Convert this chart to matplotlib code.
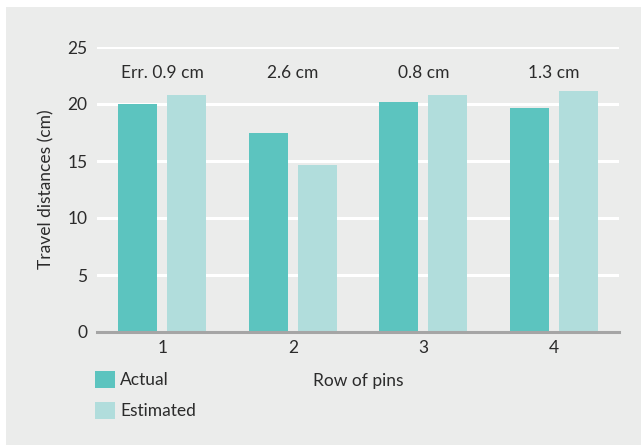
import numpy as np
import matplotlib.pyplot as plt
from matplotlib.patches import Rectangle, Patch

plt.rcParams['font.family'] = ['Lato', 'DejaVu Sans']

rows = [1, 2, 3, 4]
actual = [20.0, 17.45, 20.2, 19.65]
estimated = [20.8, 14.65, 20.8, 21.1]
err_labels = ['Err. 0.9 cm', '2.6 cm', '0.8 cm', '1.3 cm']
yticks = [0, 5, 10, 15, 20, 25]

c_act = '#5cc4bf'
c_est = '#b1dddc'
bg = '#ebeceb'
txt = '#2b2b2b'

fig = plt.figure(figsize=(6.41, 4.45), dpi=100, facecolor='white')
fig.patches.append(Rectangle((6/641, 0), 1, 1 - 7/445, transform=fig.transFigure,
                             facecolor=bg, edgecolor='none', zorder=-10))

ax = fig.add_axes([97/641, 1 - 332/445, 522/641, 285/445])
ax.set_facecolor(bg)
ax.patch.set_alpha(0)

x = np.array(rows)
w = 0.3
off = 0.1875
ax.bar(x - off, actual, w, color=c_act, zorder=3)
ax.bar(x + off, estimated, w, color=c_est, zorder=3)

for xi, lab in zip(x, err_labels):
    ax.text(xi, 22.7, lab, ha='center', va='center', fontsize=12.5, color=txt)

ax.set_xlim(0.5, 4.5)
ax.set_ylim(0, 25)
ax.set_yticks(yticks)
ax.set_xticks(rows)
ax.yaxis.grid(True, color='white', linewidth=2.2, zorder=1)
ax.set_axisbelow(True)
for s in ['top', 'right', 'left']:
    ax.spines[s].set_visible(False)
ax.spines['bottom'].set_color('#a5a5a5')
ax.spines['bottom'].set_linewidth(2.2)
ax.spines['bottom'].set_zorder(4)
ax.tick_params(length=0, labelsize=12.5, labelcolor=txt)
ax.tick_params(axis='y', pad=7)
ax.tick_params(axis='x', pad=6)

ax.set_ylabel('Travel distances (cm)', fontsize=12.5, color=txt, labelpad=9)
ax.set_xlabel('Row of pins', fontsize=12.5, color=txt, labelpad=12)

handles = [Patch(facecolor=c_act, label='Actual'), Patch(facecolor=c_est, label='Estimated')]
fig.legend(handles=handles, loc='upper left', bbox_to_anchor=(95/641, 1 - 371/445),
           frameon=False, fontsize=12.5, handlelength=1.15, handleheight=1.15,
           handletextpad=0.3, labelspacing=0.75, borderpad=0, borderaxespad=0,
           labelcolor=txt)

fig.savefig('out.png', dpi=100, facecolor='white')
